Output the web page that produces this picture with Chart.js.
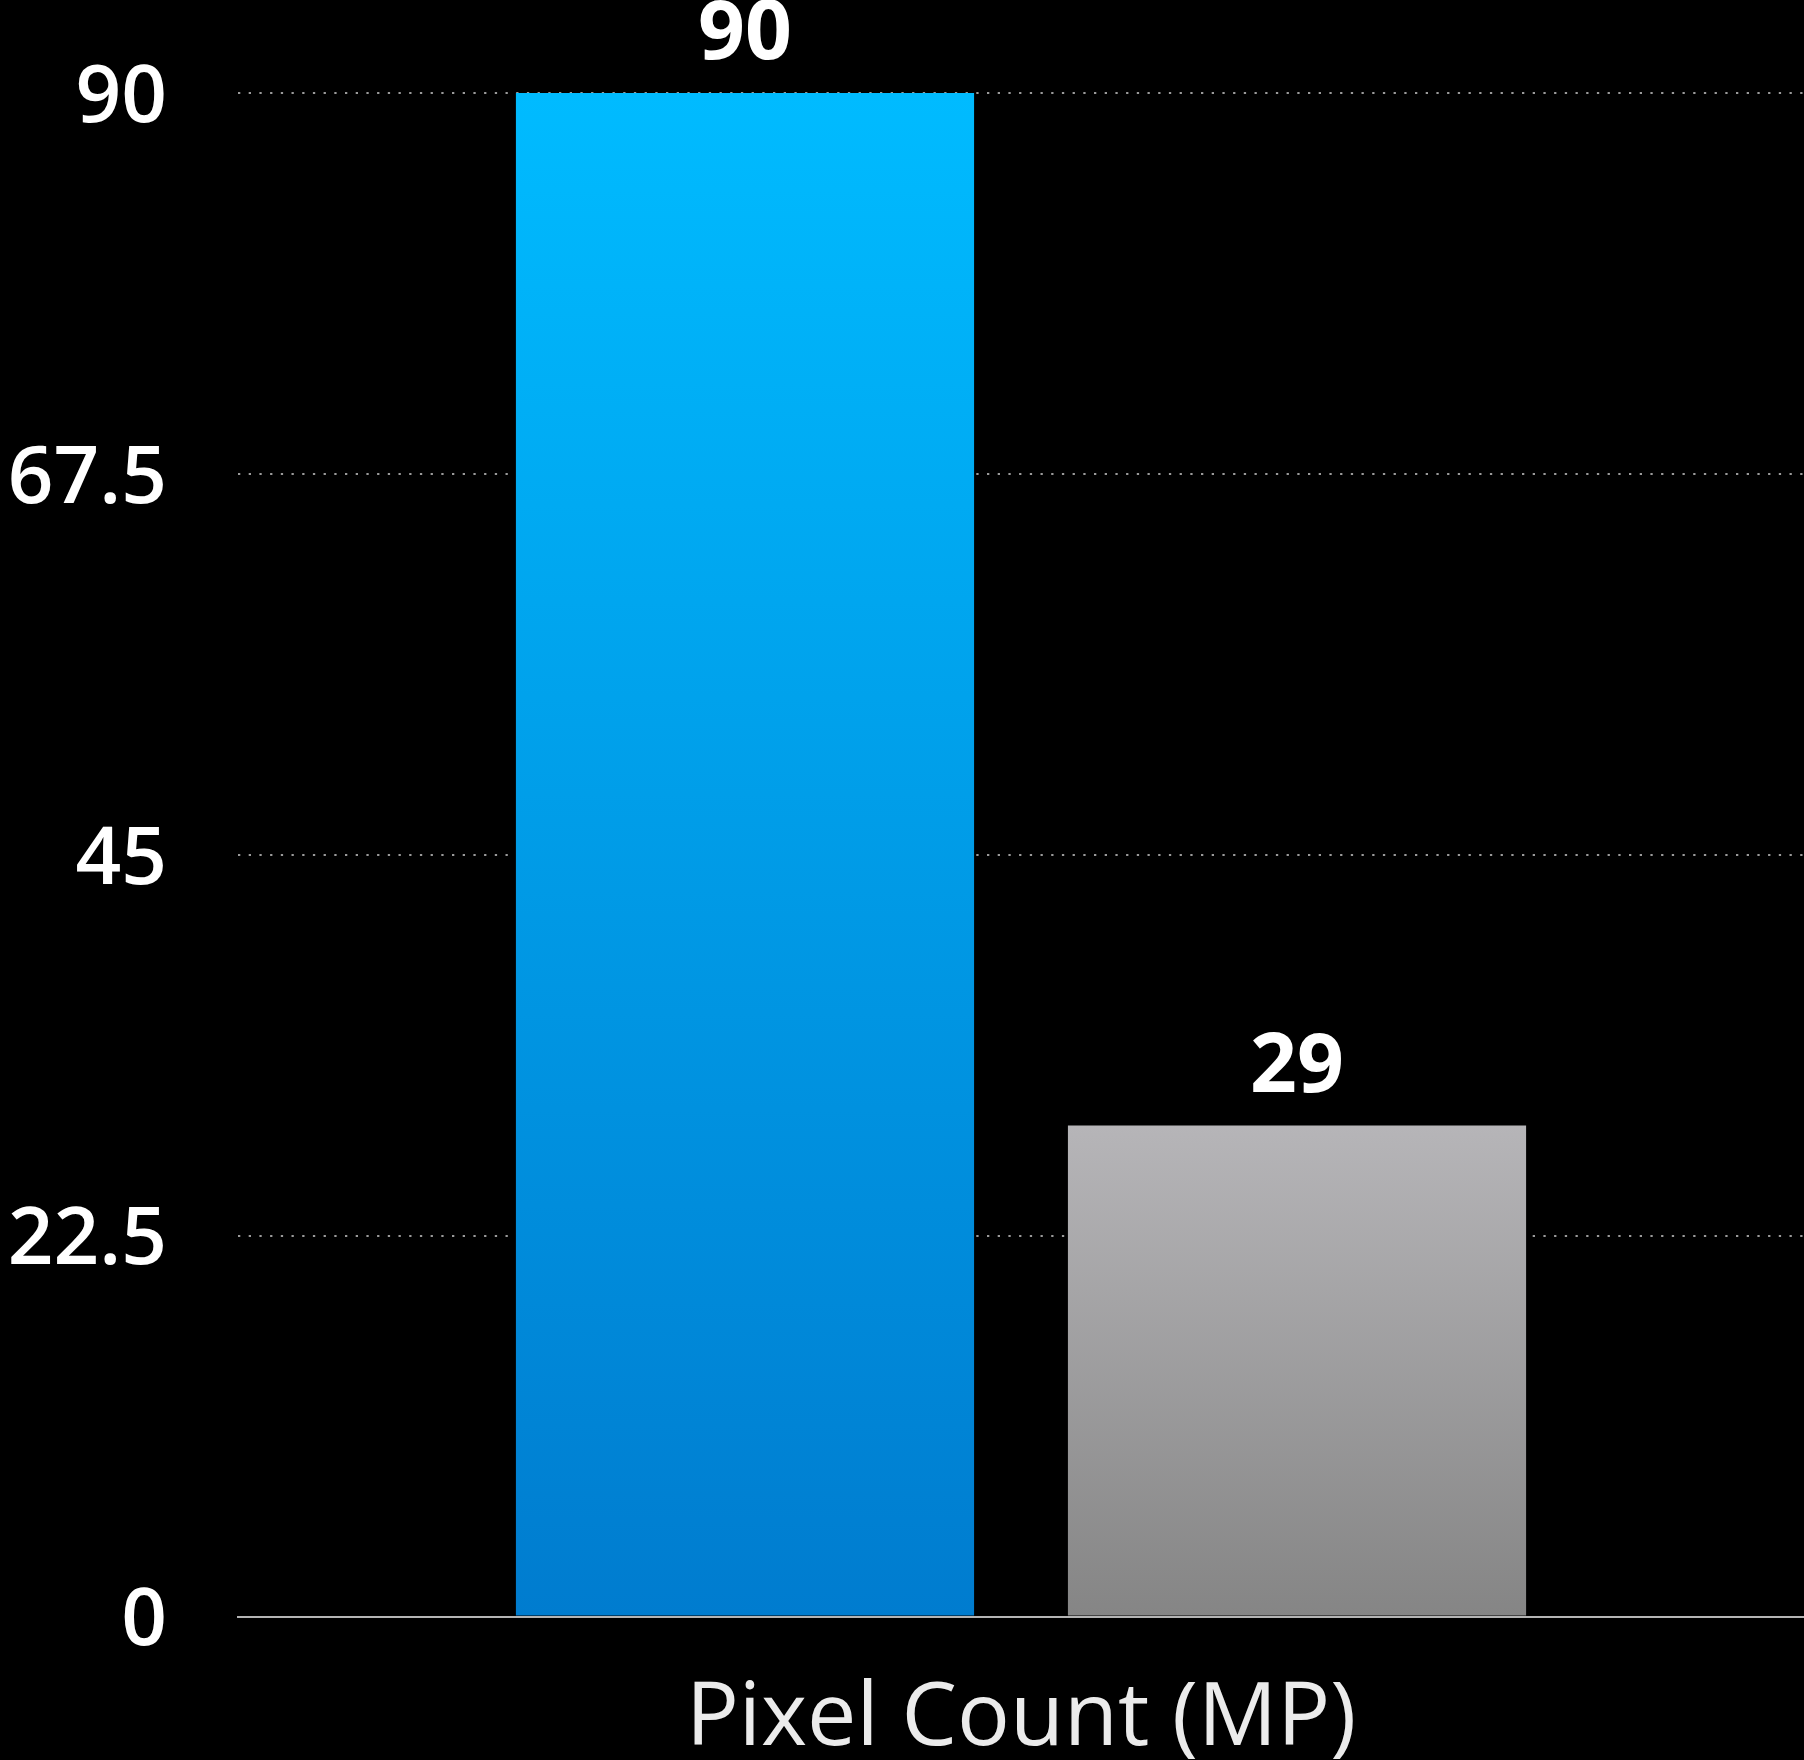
<!DOCTYPE html>
<html>
<head>
<meta charset="utf-8">
<script src="https://cdn.jsdelivr.net/npm/chart.js@4/dist/chart.umd.min.js"></script>
<style>
  html, body { margin: 0; padding: 0; background: #000; }
  #wrap { width: 1804px; height: 1760px; }
</style>
</head>
<body>
<div id="wrap"><canvas id="chart" width="1804" height="1760"></canvas></div>
<script>
// Chart data
const categories = ['Pixel Count (MP)'];
const seriesNames = ['Series 1', 'Series 2'];
const series1Values = [90];
const series2Values = [29];
const yTickValues = [0, 22.5, 45, 67.5, 90];

// Gradient stops (top, bottom) for each series
const series1Colors = ['#00bbff', '#007ccf'];
const series2Colors = ['#b6b5b8', '#858585'];

const FONT = '"Open Sans", "Noto Sans", sans-serif';

function barGradient(colors) {
  return (ctx) => {
    const chart = ctx.chart;
    const area = chart.chartArea;
    if (!area) return colors[0];
    const y = chart.scales.y;
    const top = y.getPixelForValue(ctx.raw);
    const bottom = y.getPixelForValue(0);
    const g = chart.ctx.createLinearGradient(0, top, 0, bottom);
    g.addColorStop(0, colors[0]);
    g.addColorStop(1, colors[1]);
    return g;
  };
}

// Writes each bar's value above it
const valueLabels = {
  id: 'valueLabels',
  afterDatasetsDraw(chart) {
    const ctx = chart.ctx;
    ctx.save();
    ctx.font = '700 82px ' + FONT;
    ctx.fillStyle = '#ffffff';
    ctx.textAlign = 'center';
    ctx.textBaseline = 'alphabetic';
    chart.data.datasets.forEach((ds, i) => {
      const meta = chart.getDatasetMeta(i);
      meta.data.forEach((bar, j) => {
        ctx.fillText(String(ds.data[j]), bar.x, bar.y - 34);
      });
    });
    ctx.restore();
  }
};

new Chart(document.getElementById('chart'), {
  type: 'bar',
  data: {
    labels: categories,
    datasets: [
      {
        label: seriesNames[0],
        data: series1Values,
        backgroundColor: barGradient(series1Colors),
        borderWidth: 0,
        categoryPercentage: 0.705,
        barPercentage: 0.83
      },
      {
        label: seriesNames[1],
        data: series2Values,
        backgroundColor: barGradient(series2Colors),
        borderWidth: 0,
        categoryPercentage: 0.705,
        barPercentage: 0.83
      }
    ]
  },
  options: {
    responsive: false,
    animation: false,
    layout: { padding: { top: 93, left: 0, right: 0, bottom: 0 } },
    plugins: {
      legend: { display: false },
      tooltip: { enabled: false }
    },
    scales: {
      x: {
        grid: { display: false, drawTicks: false },
        border: { display: true, color: '#b4b4b4', width: 2, z: 1 },
        ticks: {
          color: '#ebebeb',
          font: { family: FONT, size: 88, weight: '400' },
          padding: 51
        },
        afterFit(scale) {
          scale.height = 143.5;
          scale.paddingLeft = 0;
          scale.paddingRight = 0;
        }
      },
      y: {
        min: 0,
        max: 90,
        afterBuildTicks(scale) {
          scale.ticks = yTickValues.map(v => ({ value: v }));
        },
        grid: {
          drawTicks: false,
          lineWidth: 2,
          color: (c) => (c.tick && c.tick.value === 0 ? 'rgba(0,0,0,0)' : '#9a9a9a')
        },
        border: { display: false, dash: [2.3, 8.4] },
        ticks: {
          color: '#ffffff',
          // an empty first line with a short line height nudges each label down a little
          font: { family: FONT, size: 80, weight: '600', lineHeight: '12px' },
          padding: 71,
          callback: (v) => ['', String(v)]
        },
        afterFit(scale) {
          scale.width = 238;
          scale.paddingTop = 0;
          scale.paddingBottom = 0;
        }
      }
    }
  },
  plugins: [valueLabels]
});
</script>
</body>
</html>
